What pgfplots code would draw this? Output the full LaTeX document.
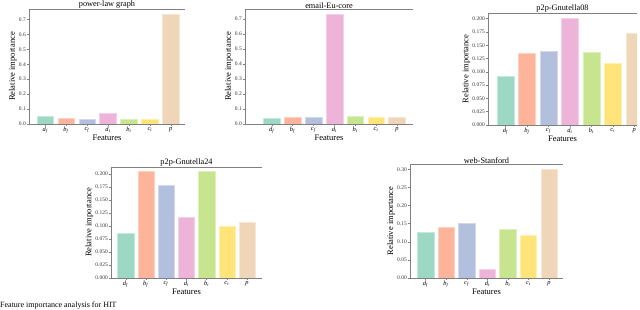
\documentclass[border=0pt]{standalone}
\usepackage{pgfplots}
\pgfplotsset{compat=1.18}
\usepackage{fontspec}
\setmainfont{Liberation Serif}
\definecolor{c1}{HTML}{9DD8C4}
\definecolor{c2}{HTML}{FDB49B}
\definecolor{c3}{HTML}{B3C0DD}
\definecolor{c4}{HTML}{EEB3D8}
\definecolor{c5}{HTML}{C7E48F}
\definecolor{c6}{HTML}{FEE479}
\definecolor{c7}{HTML}{F0D6B8}
\definecolor{spine}{HTML}{808080}
\newcommand{\fl}[2]{\textit{#1}\textsubscript{\textit{#2}}}
\newcommand{\sevenbars}[7]{%
 \addplot[fill=c1,draw=c1!60!white] coordinates {(0,#1)};
 \addplot[fill=c2,draw=c2!60!white] coordinates {(1,#2)};
 \addplot[fill=c3,draw=c3!60!white] coordinates {(2,#3)};
 \addplot[fill=c4,draw=c4!60!white] coordinates {(3,#4)};
 \addplot[fill=c5,draw=c5!60!white] coordinates {(4,#5)};
 \addplot[fill=c6,draw=c6!60!white] coordinates {(5,#6)};
 \addplot[fill=c7,draw=c7!60!white] coordinates {(6,#7)};
}
\pgfplotsset{every axis title shift=0pt,
 imp/.style={
  scale only axis, anchor=south west,
  ybar, bar width=0.8, bar shift=0pt, ymin=0,
  axis x line*=box, axis y line*=left,
  axis line style={spine, line width=0.8pt},
  xtick={0,...,6},
  xticklabels={\fl{d}{f},\fl{b}{f},\fl{c}{f},\fl{d}{t},\fl{b}{t},\fl{c}{t},\textit{p}},
  xtick pos=bottom, ytick pos=left, tick align=outside,
  major tick length=2pt,
  every tick/.style={spine, line width=0.5pt},
  /pgf/number format/assume math mode=true,
  yticklabel style={font=\fontsize{5.5}{6}\selectfont, text=black!80, inner sep=1pt},
  xticklabel style={font=\fontsize{6.5}{7}\selectfont, inner sep=1pt},
  title style={font=\fontsize{8.3}{9}\selectfont, at={(0.5,1)}, anchor=south, inner sep=0.1pt, yshift=0pt},
  label style={font=\fontsize{8.5}{9}\selectfont},
  xlabel={Features}, ylabel={Relative importance},
  xlabel style={inner sep=1pt, yshift=1pt},
  ylabel style={inner sep=1pt},
  /pgf/number format/fixed, /pgf/number format/zerofill,
}}
\begin{document}
\begin{tikzpicture}
\useasboundingbox (0pt,0pt) rectangle (640pt,310pt);
\clip (0pt,0pt) rectangle (640pt,310pt);
\node[anchor=south west, inner sep=0pt, font=\fontsize{8}{9}\selectfont] at (0pt,0.6pt) {Feature importance analysis for HIT};
% power-law graph
\begin{axis}[imp, at={(29pt,186pt)}, width=156pt, height=115pt,
  xmin=-0.78, xmax=6.68, ymax=0.77, title={power-law graph},
  ytick={0,0.1,0.2,0.3,0.4,0.5,0.6,0.7}, yticklabel style={/pgf/number format/precision=1}]
\sevenbars{0.049}{0.042}{0.035}{0.073}{0.035}{0.035}{0.732}
\end{axis}
% email-Eu-core
\begin{axis}[imp, at={(245pt,186pt)}, width=168pt, height=115pt,
  xmin=-1.29, xmax=6.77, ymax=0.766, title={email-Eu-core},
  ytick={0,0.1,0.2,0.3,0.4,0.5,0.6,0.7}, yticklabel style={/pgf/number format/precision=1}]
\sevenbars{0.040}{0.046}{0.046}{0.729}{0.053}{0.046}{0.048}
\end{axis}
% p2p-Gnutella08
\begin{axis}[imp, at={(488pt,185pt)}, width=149pt, height=112pt,
  xmin=-0.82, xmax=6.125, ymax=0.2106, title={p2p-Gnutella08},
  ytick={0,0.025,0.05,0.075,0.1,0.125,0.15,0.175,0.2}, yticklabel style={/pgf/number format/precision=3}]
\sevenbars{0.0919}{0.135}{0.1394}{0.2006}{0.136}{0.116}{0.172}
\end{axis}
% p2p-Gnutella24
\begin{axis}[imp, at={(111pt,32pt)}, width=151pt, height=111pt,
  xmin=-0.73, xmax=6.74, ymax=0.2134, title={p2p-Gnutella24},
  ytick={0,0.025,0.05,0.075,0.1,0.125,0.15,0.175,0.2}, yticklabel style={/pgf/number format/precision=3}]
\sevenbars{0.0854}{0.2045}{0.178}{0.116}{0.2045}{0.100}{0.1076}
\end{axis}
% web-Stanford
\begin{axis}[imp, at={(410pt,32pt)}, width=153pt, height=114pt,
  xmin=-0.76, xmax=6.68, ymax=0.3146, title={web-Stanford},
  ytick={0,0.05,0.1,0.15,0.2,0.25,0.3}, yticklabel style={/pgf/number format/precision=2}]
\sevenbars{0.126}{0.139}{0.150}{0.025}{0.135}{0.118}{0.301}
\end{axis}
\end{tikzpicture}
\end{document}
